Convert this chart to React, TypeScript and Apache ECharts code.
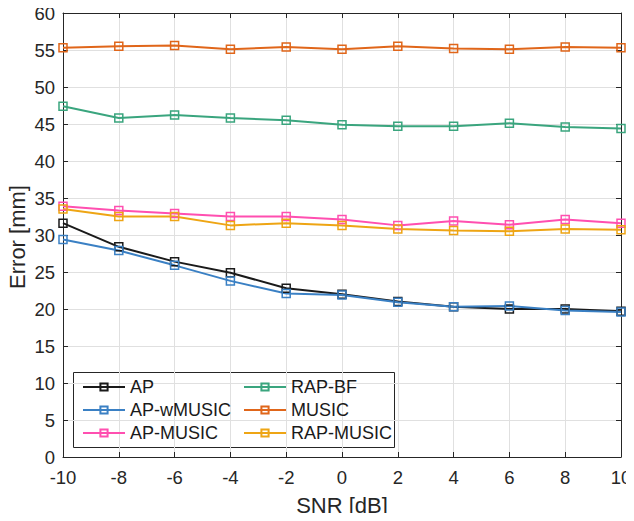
import React, { useEffect, useRef } from "react";
import * as echarts from "echarts";

const snr = [-10, -8, -6, -4, -2, 0, 2, 4, 6, 8, 10];
const apData = [31.6, 28.4, 26.4, 24.9, 22.8, 22.0, 21.0, 20.3, 20.0, 20.0, 19.7];
const apwData = [29.4, 27.9, 25.9, 23.8, 22.1, 21.9, 20.9, 20.3, 20.4, 19.8, 19.6];
const apMusicData = [33.9, 33.3, 32.9, 32.5, 32.5, 32.1, 31.3, 31.9, 31.4, 32.1, 31.6];
const rapBfData = [47.4, 45.8, 46.2, 45.8, 45.5, 44.9, 44.7, 44.7, 45.1, 44.6, 44.4];
const musicData = [55.3, 55.5, 55.6, 55.1, 55.4, 55.1, 55.5, 55.2, 55.1, 55.4, 55.3];
const rapMusicData = [33.5, 32.5, 32.5, 31.3, 31.6, 31.3, 30.8, 30.6, 30.5, 30.8, 30.7];

const seriesDefs = [
  { name: "AP", data: apData, color: "#1a1a1a" },
  { name: "AP-wMUSIC", data: apwData, color: "#3a80c4" },
  { name: "AP-MUSIC", data: apMusicData, color: "#ff4fb0" },
  { name: "RAP-BF", data: rapBfData, color: "#3aa57e" },
  { name: "MUSIC", data: musicData, color: "#e0661a" },
  { name: "RAP-MUSIC", data: rapMusicData, color: "#eea514" },
];

export default function App() {
  const ref = useRef<HTMLDivElement>(null);
  useEffect(() => {
    const chart = echarts.init(ref.current!, undefined, { renderer: "svg" });
    const axisColor = "#262626";
    const font = "'Liberation Sans', Arial, Helvetica, sans-serif";
    const legendCommon = {
      orient: "vertical" as const,
      itemWidth: 42,
      itemHeight: 9,
      itemGap: 5,
      textStyle: { fontSize: 18, color: "#1a1a1a", fontFamily: font },
    };
    chart.setOption({
      animation: false,
      backgroundColor: "#fff",
      grid: { left: 63, right: 13, top: 13, bottom: 64, outerBoundsMode: "none" },
      xAxis: [
        {
          type: "value",
          min: -10,
          max: 10,
          interval: 2,
          axisLine: { show: true, onZero: false, lineStyle: { color: axisColor } },
          axisTick: { show: true, inside: true, length: 5, lineStyle: { color: axisColor } },
          axisLabel: { fontSize: 18.5, color: axisColor, fontFamily: font, margin: 11 },
          splitLine: { show: true, lineStyle: { color: "#e0e0e0" } },
        },
        {
          type: "value",
          position: "top",
          min: -10,
          max: 10,
          interval: 2,
          axisLine: { show: true, onZero: false, lineStyle: { color: axisColor } },
          axisTick: { show: true, inside: true, length: 5, lineStyle: { color: axisColor } },
          axisLabel: { show: false },
          splitLine: { show: false },
        },
      ],
      yAxis: [
        {
          type: "value",
          min: 0,
          max: 60,
          interval: 5,
          axisLine: { show: true, onZero: false, lineStyle: { color: axisColor } },
          axisTick: { show: true, inside: true, length: 5, lineStyle: { color: axisColor } },
          axisLabel: { fontSize: 18.5, color: axisColor, fontFamily: font, margin: 8 },
          splitLine: { show: true, lineStyle: { color: "#e0e0e0" } },
        },
        {
          type: "value",
          position: "right",
          min: 0,
          max: 60,
          interval: 5,
          axisLine: { show: true, onZero: false, lineStyle: { color: axisColor } },
          axisTick: { show: true, inside: true, length: 5, lineStyle: { color: axisColor } },
          axisLabel: { show: false },
          splitLine: { show: false },
        },
      ],
      legend: [
        {
          ...legendCommon,
          left: 77,
          top: 373,
          data: ["AP", "AP-wMUSIC", "AP-MUSIC"],
        },
        {
          ...legendCommon,
          left: 238,
          top: 373,
          data: ["RAP-BF", "MUSIC", "RAP-MUSIC"],
        },
      ],
      graphic: [
        {
          type: "rect",
          shape: { x: 73.5, y: 372.5, width: 321, height: 75 },
          style: { fill: "#fff", stroke: "#262626", lineWidth: 1 },
          z: -1,
          zlevel: 0,
        },
        {
          type: "text",
          x: 342,
          y: 505,
          style: {
            text: "SNR [dB]",
            fontSize: 22,
            fontFamily: font,
            fill: axisColor,
            align: "center",
            verticalAlign: "middle",
          },
        },
        {
          type: "text",
          x: 17,
          y: 237,
          rotation: Math.PI / 2,
          style: {
            text: "Error [mm]",
            fontSize: 22,
            fontFamily: font,
            fill: axisColor,
            align: "center",
            verticalAlign: "middle",
          },
        },
      ],
      series: seriesDefs.map((s) => ({
        name: s.name,
        type: "line",
        data: s.data.map((v, i) => [snr[i], v]),
        symbol: "rect",
        symbolSize: 8,
        color: s.color,
        lineStyle: { color: s.color, width: 2 },
        itemStyle: { color: "rgba(255,255,255,0)", borderColor: s.color, borderWidth: 1.5 },
        z: 3,
      })),
    });
    return () => chart.dispose();
  }, []);
  return <div ref={ref} style={{ width: 634, height: 521, margin: -8 }} />;
}
